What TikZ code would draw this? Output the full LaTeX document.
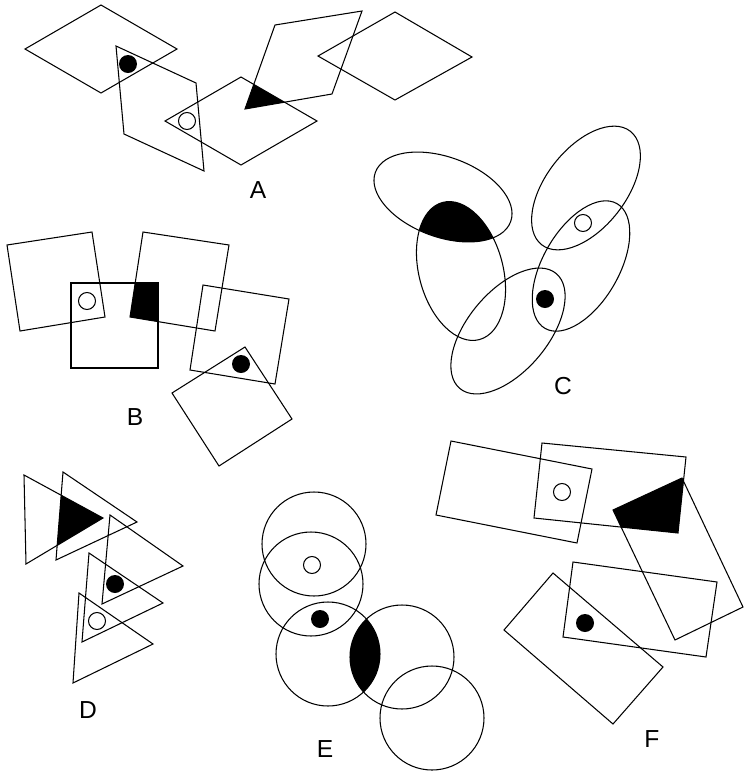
\documentclass[tikz,border=0pt]{standalone}
\usepackage{fontspec}
\setmainfont{Liberation Sans}
\tikzset{
  outline/.style={draw=black, line width=0.9pt, line join=miter},
  blot/.style={fill=black},
  dot/.style={fill=black},
  ring/.style={draw=black, line width=0.9pt},
  tag/.style={font=\fontsize{21}{24}\selectfont, inner sep=0pt},
}
\begin{document}
\begin{tikzpicture}[x=0.03cm, y=-0.03cm]
  \useasboundingbox (0,0) rectangle (746,773);

  % A: rhombi and parallelograms
  \begin{scope}
    \clip (165,121) -- (241,77) -- (317,121) -- (241,165) -- cycle;
    \fill[blot] (275,25) -- (362,11) -- (332,94) -- (245,109) -- cycle;
  \end{scope}
  \draw[outline] (25,49) -- (101,5) -- (177,49) -- (101,93) -- cycle;
  \draw[outline] (116,46) -- (196,83) -- (204,171) -- (124,134) -- cycle;
  \draw[outline] (165,121) -- (241,77) -- (317,121) -- (241,165) -- cycle;
  \draw[outline] (275,25) -- (362,11) -- (332,94) -- (245,109) -- cycle;
  \draw[outline] (318,56) -- (395,12) -- (472,57) -- (395,100) -- cycle;
  \fill[dot] (128,64) circle[radius=9];
  \draw[ring] (187,121) circle[radius=8.5];
  \node[tag] (labA) at (258,190) {A};

  % B: squares
  \begin{scope}
    \clip (71,283) rectangle (158,368);
    \fill[blot] (143,232) -- (229,245) -- (215,331) -- (130,317) -- cycle;
  \end{scope}
  \draw[outline] (7,245) -- (92,232) -- (105,317) -- (20,331) -- cycle;
  \draw[outline] (71,283) rectangle (158,368);
  \draw[outline] (143,232) -- (229,245) -- (215,331) -- (130,317) -- cycle;
  \draw[outline] (203,285) -- (289,299) -- (275,384) -- (190,370) -- cycle;
  \draw[outline] (245,347) -- (292,419) -- (219,466) -- (172,393) -- cycle;
  \draw[ring] (87,301) circle[radius=8.5];
  \fill[dot] (241,364) circle[radius=9];
  \node[tag] (labB) at (135,417) {B};

  % C: ellipses
  \begin{scope}
    \clip[rotate around={-20:(443,197)}] (443,197) ellipse[x radius=72, y radius=40];
    \fill[blot, rotate around={15:(461,271)}] (461,271) ellipse[x radius=42, y radius=71];
  \end{scope}
  \draw[outline, rotate around={-20:(443,197)}] (443,197) ellipse[x radius=72, y radius=40];
  \draw[outline, rotate around={15:(461,271)}] (461,271) ellipse[x radius=42, y radius=71];
  \draw[outline, rotate around={50:(508,331)}] (508,331) ellipse[x radius=75, y radius=40];
  \draw[outline, rotate around={52:(586,188)}] (586,188) ellipse[x radius=72, y radius=40];
  \draw[outline, rotate around={60:(581,266)}] (581,266) ellipse[x radius=72, y radius=38];
  \draw[ring] (583,223) circle[radius=8.5];
  \fill[dot] (545,299) circle[radius=9];
  \node[tag] (labC) at (563,386) {C};

  % D: triangles
  \begin{scope}
    \clip (24,475) -- (103,518) -- (26,564) -- cycle;
    \fill[blot] (63,472) -- (137,522) -- (56,560) -- cycle;
  \end{scope}
  \draw[outline] (24,475) -- (103,518) -- (26,564) -- cycle;
  \draw[outline] (63,472) -- (137,522) -- (56,560) -- cycle;
  \draw[outline] (110,515) -- (183,566) -- (102,604) -- cycle;
  \draw[outline] (89,553) -- (163,603) -- (82,642) -- cycle;
  \draw[outline] (79,593) -- (153,644) -- (73,683) -- cycle;
  \fill[dot] (115,584) circle[radius=9];
  \draw[ring] (97,621) circle[radius=8.5];
  \node[tag] (labD) at (88,710) {D};

  % E: circles
  \begin{scope}
    \clip (328,654) circle[radius=52];
    \fill[blot] (402,657) circle[radius=52];
  \end{scope}
  \foreach \cx/\cy in {314/544, 311/584, 328/654, 402/657, 432/718}
    \draw[outline] (\cx,\cy) circle[radius=52];
  \draw[ring] (312,565) circle[radius=8.5];
  \fill[dot] (320,619) circle[radius=9];
  \node[tag] (labE) at (325,749) {E};

  % F: rectangles
  \begin{scope}
    \clip (542,443) -- (686,457) -- (678,533) -- (534,518) -- cycle;
    \fill[blot] (613,510) -- (682,478) -- (743,607) -- (675,640) -- cycle;
  \end{scope}
  \draw[outline] (451,441) -- (592,469) -- (577,543) -- (436,515) -- cycle;
  \draw[outline] (542,443) -- (686,457) -- (678,533) -- (534,518) -- cycle;
  \draw[outline] (613,510) -- (682,478) -- (743,607) -- (675,640) -- cycle;
  \draw[outline] (573,562) -- (717,582) -- (706,657) -- (563,637) -- cycle;
  \draw[outline] (553,573) -- (663,667) -- (613,724) -- (504,630) -- cycle;
  \draw[ring] (562,492) circle[radius=8.5];
  \fill[dot] (585,623) circle[radius=9];
  \node[tag] (labF) at (652,739) {F};
\end{tikzpicture}
\end{document}
